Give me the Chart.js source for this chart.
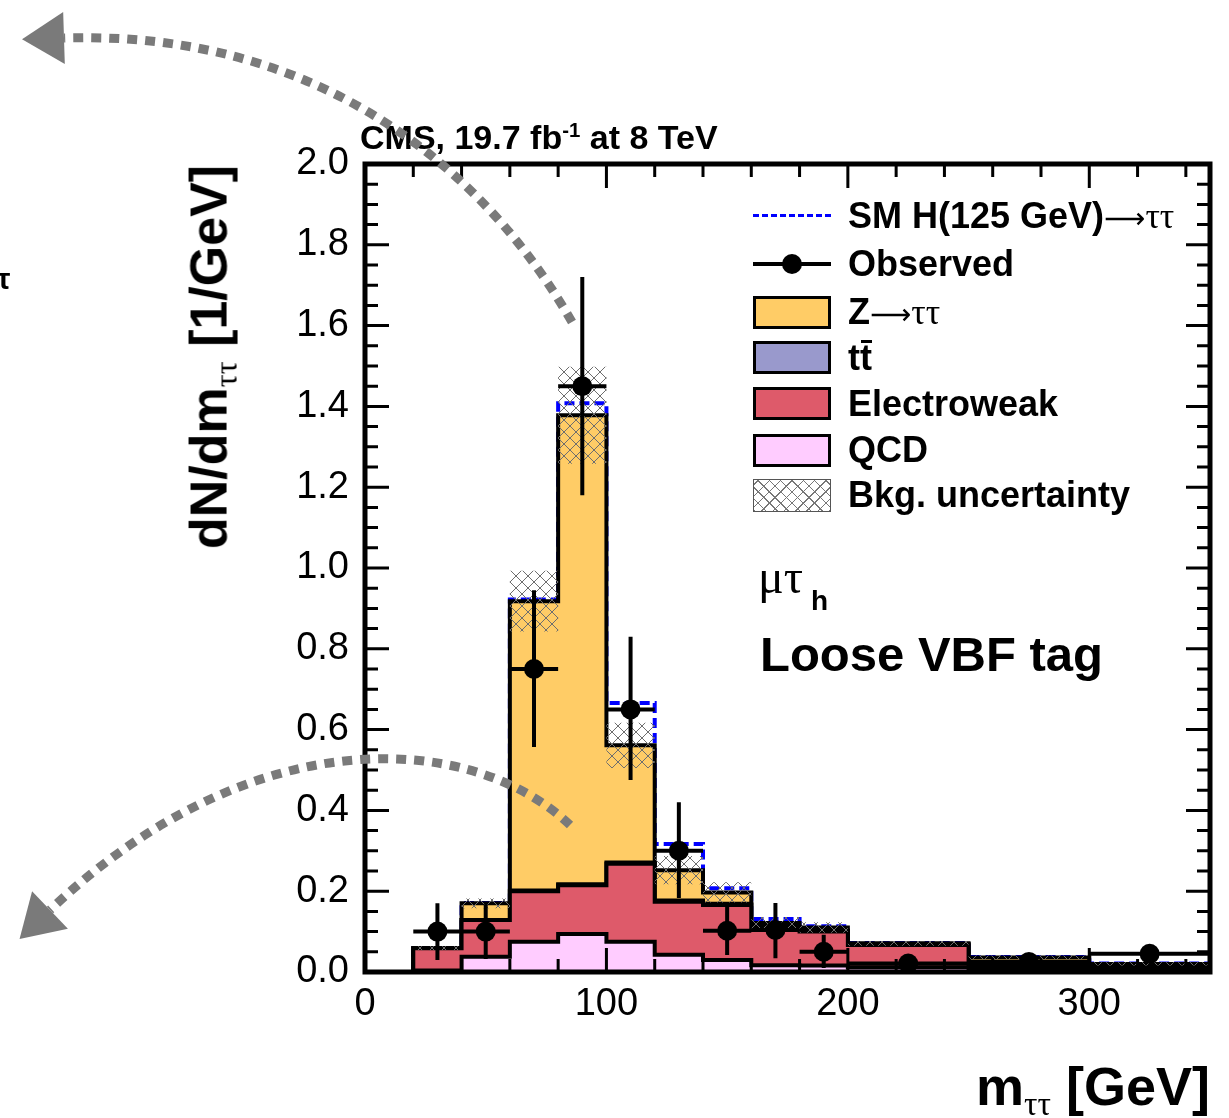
<!DOCTYPE html>
<html lang="en">
<head>
<meta charset="UTF-8">
<title>m_tautau, loose VBF tag</title>
<script src="https://cdn.jsdelivr.net/npm/chart.js"></script>
<style>
  body { margin: 0; background: #fff; }
  #wrap { position: relative; width: 1229px; height: 1118px; overflow: hidden;
          font-family: 'Liberation Sans', Arial, sans-serif; color: #000; }
  #wrap canvas { position: absolute; left: 0; top: 0; }
  #arrows { z-index: 3; pointer-events: none; }
  .txt { position: absolute; z-index: 2; font-weight: bold; white-space: nowrap; line-height: 1; }
  .greek { font-family: 'Liberation Serif', 'Times New Roman', serif; font-weight: normal; }
  .arr { font-family: 'DejaVu Sans', sans-serif; font-weight: normal; font-size: 0.8em; }
  .box { position: absolute; z-index: 2; left: 753px; width: 72px; height: 27px; border: 3px solid #000; }
  .bar { position: relative; }
  .bar::after { content: ''; position: absolute; left: 1px; right: 0; top: 3px; border-top: 3px solid #000; }
  sub { font-size: 0.62em; vertical-align: -0.3em; }
</style>
</head>
<body>
<div id="wrap">
  <canvas id="chart" width="1229" height="1118"></canvas>
  <canvas id="arrows" width="1229" height="1118"></canvas>

  <div class="txt" style="left:-3px; top:264px; font-size:30px;">τ</div>
  <div class="txt" style="left:360px; top:120px; font-size:34px;">CMS, 19.7 fb<sup style="font-size:0.6em">-1</sup> at 8 TeV</div>

  <!-- legend -->
  <div class="txt" style="left:753px; top:214px; width:78px; border-top:3px dashed #0000ff;"></div>
  <div class="txt" style="left:848px; top:198px; font-size:36px;">SM H(125 GeV)<span class="arr">⟶</span><span class="greek">ττ</span></div>
  <div class="txt" style="left:753px; top:262px; width:78px; height:4px; background:#000;"></div>
  <div class="txt" style="left:782px; top:254px; width:20px; height:20px; border-radius:50%; background:#000;"></div>
  <div class="txt" style="left:848px; top:246px; font-size:36px;">Observed</div>
  <div class="box" style="top:296px; background:#ffcc66;"></div>
  <div class="txt" style="left:848px; top:294px; font-size:36px;">Z<span class="arr">⟶</span><span class="greek">ττ</span></div>
  <div class="box" style="top:341px; background:#9999cc;"></div>
  <div class="txt" style="left:848px; top:340px; font-size:36px;">t<span class="bar">t</span></div>
  <div class="box" style="top:387px; background:#de5a6a;"></div>
  <div class="txt" style="left:848px; top:386px; font-size:36px;">Electroweak</div>
  <div class="box" style="top:434px; background:#ffccff;"></div>
  <div class="txt" style="left:848px; top:432px; font-size:36px;">QCD</div>
  <div class="box" style="top:479px; border:1px solid #555; width:76px; height:31px;
       background: repeating-linear-gradient(45deg, #777 0 1px, transparent 1px 8px),
                   repeating-linear-gradient(-45deg, #777 0 1px, transparent 1px 8px);"></div>
  <div class="txt" style="left:848px; top:477px; font-size:36px;">Bkg. uncertainty</div>

  <div class="txt greek" style="left:758px; top:553px; font-size:48px;">μτ</div>
  <div class="txt" style="left:811px; top:587px; font-size:28px;">h</div>
  <div class="txt" style="left:760px; top:630px; font-size:49px;">Loose VBF tag</div>

  <!-- axis titles -->
  <div class="txt" style="left:212px; top:357px; font-size:52px; transform:translate(-50%,-50%) rotate(-90deg);">dN/dm<sub class="greek">ττ</sub> [1/GeV]</div>
  <div class="txt" style="right:19px; top:1059px; font-size:54px;">m<sub class="greek">ττ</sub> [GeV]</div>
</div>

<script>
  // bin edges in GeV (12 bins)
  const edges = [20, 40, 60, 80, 100, 120, 140, 160, 180, 200, 250, 300, 350];

  // background components, dN/dm per bin
  const qcd   = [0.004, 0.038, 0.075, 0.094, 0.075, 0.043, 0.030, 0.017, 0.016, 0.012, 0.005, 0.004];
  const ewk   = [0.055, 0.091, 0.125, 0.121, 0.193, 0.131, 0.136, 0.092, 0.084, 0.055, 0.008, 0.006];
  const ttbar = [0.000, 0.000, 0.002, 0.002, 0.003, 0.003, 0.003, 0.003, 0.003, 0.002, 0.002, 0.001];
  const ztt   = [0.000, 0.041, 0.716, 1.161, 0.290, 0.075, 0.028, 0.009, 0.007, 0.002, 0.021, 0.009];
  const bkgErr = [0.005, 0.012, 0.075, 0.120, 0.056, 0.035, 0.025, 0.015, 0.013, 0.006, 0.005, 0.004];

  // SM Higgs signal stacked on top
  const higgs = [0.000, 0.001, 0.004, 0.030, 0.105, 0.065, 0.010, 0.010, 0.003, 0.001, 0.001, 0.001];

  // observed data
  const obsMass = [30, 50, 70, 90, 110, 130, 150, 170, 190, 225, 275, 325];
  const obsVal  = [0.100, 0.100, 0.750, 1.450, 0.650, 0.300, 0.102, 0.104, 0.050, 0.021, 0.025, 0.045];
  const obsUp   = [0.170, 0.168, 0.945, 1.720, 0.830, 0.420, 0.165, 0.171, 0.092, 0.031, 0.034, 0.066];
  const obsDown = [0.030, 0.032, 0.557, 1.180, 0.475, 0.183, 0.042, 0.034, 0.010, 0.012, 0.017, 0.025];

  // cumulative stack
  const add = (a, b) => a.map((v, i) => v + b[i]);
  const cumQcd = qcd;
  const cumEwk = add(cumQcd, ewk);
  const cumTt = add(cumEwk, ttbar);
  const cumZtt = add(cumTt, ztt);
  const cumSig = add(cumZtt, higgs);

  // step outline of a histogram, optionally dropping to 0 at both ends
  function stepPoints(vals, closed) {
    const pts = closed ? [{ x: edges[0], y: 0 }] : [];
    vals.forEach((v, i) => pts.push({ x: edges[i], y: v }));
    pts.push({ x: edges[edges.length - 1], y: vals[vals.length - 1] });
    if (closed) pts.push({ x: edges[edges.length - 1], y: 0 });
    return pts;
  }

  function hatchPattern() {
    const c = document.createElement('canvas');
    c.width = c.height = 12;
    const g = c.getContext('2d');
    g.strokeStyle = '#6e6e6e';
    g.lineWidth = 1;
    g.beginPath();
    g.moveTo(0, 0); g.lineTo(12, 12);
    g.moveTo(12, 0); g.lineTo(0, 12);
    g.stroke();
    return g.createPattern(c, 'repeat');
  }

  // error bars as broken line segments
  const errV = [], errH = [];
  obsMass.forEach((m, i) => {
    errV.push({ x: m, y: obsDown[i] }, { x: m, y: obsUp[i] }, { x: m, y: null });
    errH.push({ x: edges[i], y: obsVal[i] }, { x: edges[i + 1], y: obsVal[i] }, { x: edges[i + 1], y: null });
  });

  const stackLayer = (label, vals, color, order) => ({
    label, data: stepPoints(vals, true), stepped: true, fill: 'origin',
    backgroundColor: color, borderColor: '#000', borderWidth: 4, pointRadius: 0, order
  });

  // inner ticks on all four sides + thick frame, ROOT style
  const frameTicks = {
    id: 'frameTicks',
    afterDatasetsDraw(chart) {
      const { ctx, chartArea: a, scales: { x, y } } = chart;
      ctx.save();
      ctx.strokeStyle = '#000';
      ctx.lineWidth = 3;
      ctx.beginPath();
      for (let v = 0; v < 350; v += 20) {
        const px = x.getPixelForValue(v), len = v % 100 === 0 ? 24 : 13;
        ctx.moveTo(px, a.bottom); ctx.lineTo(px, a.bottom - len);
        ctx.moveTo(px, a.top); ctx.lineTo(px, a.top + len);
      }
      for (let i = 0; i <= 40; i++) {
        const py = y.getPixelForValue(i * 0.05), len = i % 4 === 0 ? 24 : 13;
        ctx.moveTo(a.left, py); ctx.lineTo(a.left + len, py);
        ctx.moveTo(a.right, py); ctx.lineTo(a.right - len, py);
      }
      ctx.stroke();
      ctx.lineWidth = 5;
      ctx.strokeRect(a.left, a.top, a.width, a.height);
      ctx.restore();
    }
  };

  const tickFont = { family: "'Liberation Sans', Arial, sans-serif", size: 38 };

  new Chart(document.getElementById('chart'), {
    type: 'line',
    data: {
      datasets: [
        { label: 'Observed', data: obsMass.map((m, i) => ({ x: m, y: obsVal[i] })), showLine: false,
          pointRadius: 10, pointBackgroundColor: '#000', pointBorderWidth: 0, order: 0 },
        { label: 'errV', data: errV, borderColor: '#000', borderWidth: 4, pointRadius: 0, spanGaps: false, order: 1 },
        { label: 'errH', data: errH, borderColor: '#000', borderWidth: 4, pointRadius: 0, spanGaps: false, order: 1 },
        { label: 'uncLo', data: stepPoints(cumZtt.map((v, i) => v - bkgErr[i]), false), stepped: true,
          borderWidth: 0, pointRadius: 0, fill: false, order: 3 },
        { label: 'Bkg. uncertainty', data: stepPoints(cumZtt.map((v, i) => v + bkgErr[i]), false), stepped: true,
          borderWidth: 0, pointRadius: 0, fill: '-1', backgroundColor: hatchPattern(), order: 2 },
        stackLayer('QCD', cumQcd, '#ffccff', 4),
        stackLayer('Electroweak', cumEwk, '#de5a6a', 5),
        stackLayer('ttbar', cumTt, '#9999cc', 6),
        stackLayer('Z→ττ', cumZtt, '#ffcc66', 7),
        { label: 'SM H(125 GeV)→ττ', data: stepPoints(cumSig, true), stepped: true, fill: false,
          borderColor: '#0000ff', borderWidth: 4, borderDash: [10, 5], pointRadius: 0, order: 8 }
      ]
    },
    options: {
      responsive: false,
      animation: false,
      layout: { padding: { top: 164, right: 19, left: 0, bottom: 0 } },
      plugins: { legend: { display: false }, tooltip: { enabled: false } },
      scales: {
        x: {
          type: 'linear', min: 0, max: 350,
          grid: { display: false, drawTicks: false }, border: { display: false },
          ticks: { stepSize: 100, includeBounds: false, padding: 10, maxRotation: 0, color: '#000', font: tickFont },
          afterFit(s) { s.height = 146; }
        },
        y: {
          min: 0, max: 2,
          grid: { display: false, drawTicks: false }, border: { display: false },
          ticks: { stepSize: 0.2, padding: 16, color: '#000', font: tickFont, callback: v => v.toFixed(1) },
          afterFit(s) { s.width = 365; }
        }
      }
    },
    plugins: [frameTicks]
  });

  // grey dashed annotation arrows drawn over the figure
  function arrow(ctx, p0, p1, p2, p3) {
    ctx.strokeStyle = ctx.fillStyle = '#7a7a7a';
    ctx.lineWidth = 9;
    ctx.setLineDash([10, 8]);
    ctx.beginPath();
    ctx.moveTo(p0[0], p0[1]);
    ctx.bezierCurveTo(p1[0], p1[1], p2[0], p2[1], p3[0], p3[1]);
    ctx.stroke();
    const dx = p3[0] - p2[0], dy = p3[1] - p2[1], L = Math.hypot(dx, dy);
    const ux = dx / L, uy = dy / L;
    ctx.setLineDash([]);
    ctx.beginPath();
    ctx.moveTo(p3[0] + ux * 42, p3[1] + uy * 42);
    ctx.lineTo(p3[0] - uy * 26, p3[1] + ux * 26);
    ctx.lineTo(p3[0] + uy * 26, p3[1] - ux * 26);
    ctx.closePath();
    ctx.fill();
  }
  const actx = document.getElementById('arrows').getContext('2d');
  arrow(actx, [572, 322], [485, 170], [320, 30], [64, 38]);
  arrow(actx, [570, 825], [470, 730], [250, 720], [50, 910]);
</script>
</body>
</html>
